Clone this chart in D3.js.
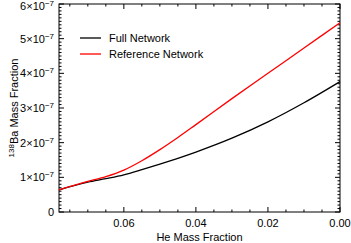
<!DOCTYPE html>
<html>
<head>
<meta charset="utf-8">
<script src="https://cdn.jsdelivr.net/npm/d3@7"></script>
<style>
  body { margin: 0; background: #fff; }
  text { font-family: "Liberation Sans", Arial, sans-serif; font-size: 11px; fill: #000; }
</style>
</head>
<body>
<svg id="chart" width="351" height="243"></svg>
<script>
// donnees (valeurs en unites de 1e-7)
const heFraction = [0.078, 0.07, 0.065, 0.06, 0.055, 0.05, 0.045, 0.04, 0.03, 0.02, 0.01, 0.0];
const fullNetwork = [0.64, 0.86, 0.96, 1.07, 1.22, 1.38, 1.55, 1.73, 2.13, 2.60, 3.15, 3.76];
const refNetwork  = [0.64, 0.88, 1.02, 1.21, 1.48, 1.80, 2.15, 2.52, 3.27, 4.00, 4.73, 5.46];
const xTicks = [0.06, 0.04, 0.02, 0.00];
const yTicks = [0, 1, 2, 3, 4, 5, 6];
const series = [
  { name: "Full Network", values: fullNetwork, color: "#000" },
  { name: "Reference Network", values: refNetwork, color: "#ff0000" }
];

const mLeft = 59, mRight = 340, mTop = 4, mBottom = 212;

const svg = d3.select("#chart");

const x = d3.scaleLinear().domain([0.078, 0]).range([mLeft, mRight]);
const y = d3.scaleLinear().domain([0, 6]).range([mBottom, mTop]);

// cadre
svg.append("rect")
  .attr("x", mLeft).attr("y", mTop)
  .attr("width", mRight - mLeft).attr("height", mBottom - mTop)
  .attr("fill", "none").attr("stroke", "#000").attr("stroke-width", 1);

// graduations vers l'interieur
const xMinor = d3.range(0, 0.0781, 0.005);
const yMinor = d3.range(0, 6.01, 0.1);
const tickG = svg.append("g").attr("stroke", "#000").attr("stroke-width", 1);

xMinor.forEach(v => {
  const major = xTicks.some(t => Math.abs(t - v) < 1e-9);
  const len = major ? 5 : 2.5;
  tickG.append("line").attr("x1", x(v)).attr("x2", x(v)).attr("y1", mBottom).attr("y2", mBottom - len);
  tickG.append("line").attr("x1", x(v)).attr("x2", x(v)).attr("y1", mTop).attr("y2", mTop + len);
});
yMinor.forEach(v => {
  const major = Math.abs(v - Math.round(v)) < 1e-9;
  const len = major ? 5 : 2.5;
  tickG.append("line").attr("y1", y(v)).attr("y2", y(v)).attr("x1", mLeft).attr("x2", mLeft + len);
  tickG.append("line").attr("y1", y(v)).attr("y2", y(v)).attr("x1", mRight).attr("x2", mRight - len);
});

// etiquettes axe x
svg.append("g").selectAll("text")
  .data(xTicks).enter().append("text")
  .attr("x", d => x(d)).attr("y", 227)
  .attr("text-anchor", "middle")
  .text(d => d.toFixed(2));

// etiquettes axe y
const yLab = svg.append("g").selectAll("text")
  .data(yTicks).enter().append("text")
  .attr("x", 54).attr("y", d => Math.max(y(d) + 4, 10))
  .attr("text-anchor", "end");
yLab.each(function(d) {
  const t = d3.select(this);
  if (d === 0) { t.text("0"); return; }
  t.append("tspan").text(d + "\u00d710");
  t.append("tspan").attr("dy", -4).attr("font-size", "8px").text("\u22127");
});

// titres des axes
svg.append("text")
  .attr("x", (mLeft + mRight) / 2).attr("y", 241)
  .attr("text-anchor", "middle")
  .text("He Mass Fraction");

const yt = svg.append("text")
  .attr("transform", `translate(18,${(mTop + mBottom) / 2}) rotate(-90)`)
  .attr("text-anchor", "middle");
yt.append("tspan").attr("font-size", "8px").attr("dy", -4).text("138");
yt.append("tspan").attr("dy", 4).text("Ba Mass Fraction");

// courbes
const line = d3.line()
  .x((d, i) => x(heFraction[i]))
  .y(d => y(d))
  .curve(d3.curveMonotoneX);

series.forEach(s => {
  svg.append("path")
    .datum(s.values)
    .attr("d", line)
    .attr("fill", "none")
    .attr("stroke", s.color)
    .attr("stroke-width", 1.3);
});

// legende
const leg = svg.append("g");
series.forEach((s, i) => {
  const ly = 38 + i * 16;
  leg.append("line").attr("x1", 80).attr("x2", 101).attr("y1", ly).attr("y2", ly)
    .attr("stroke", s.color).attr("stroke-width", 1.3);
  leg.append("text").attr("x", 109).attr("y", ly + 4).text(s.name);
});
</script>
</body>
</html>
